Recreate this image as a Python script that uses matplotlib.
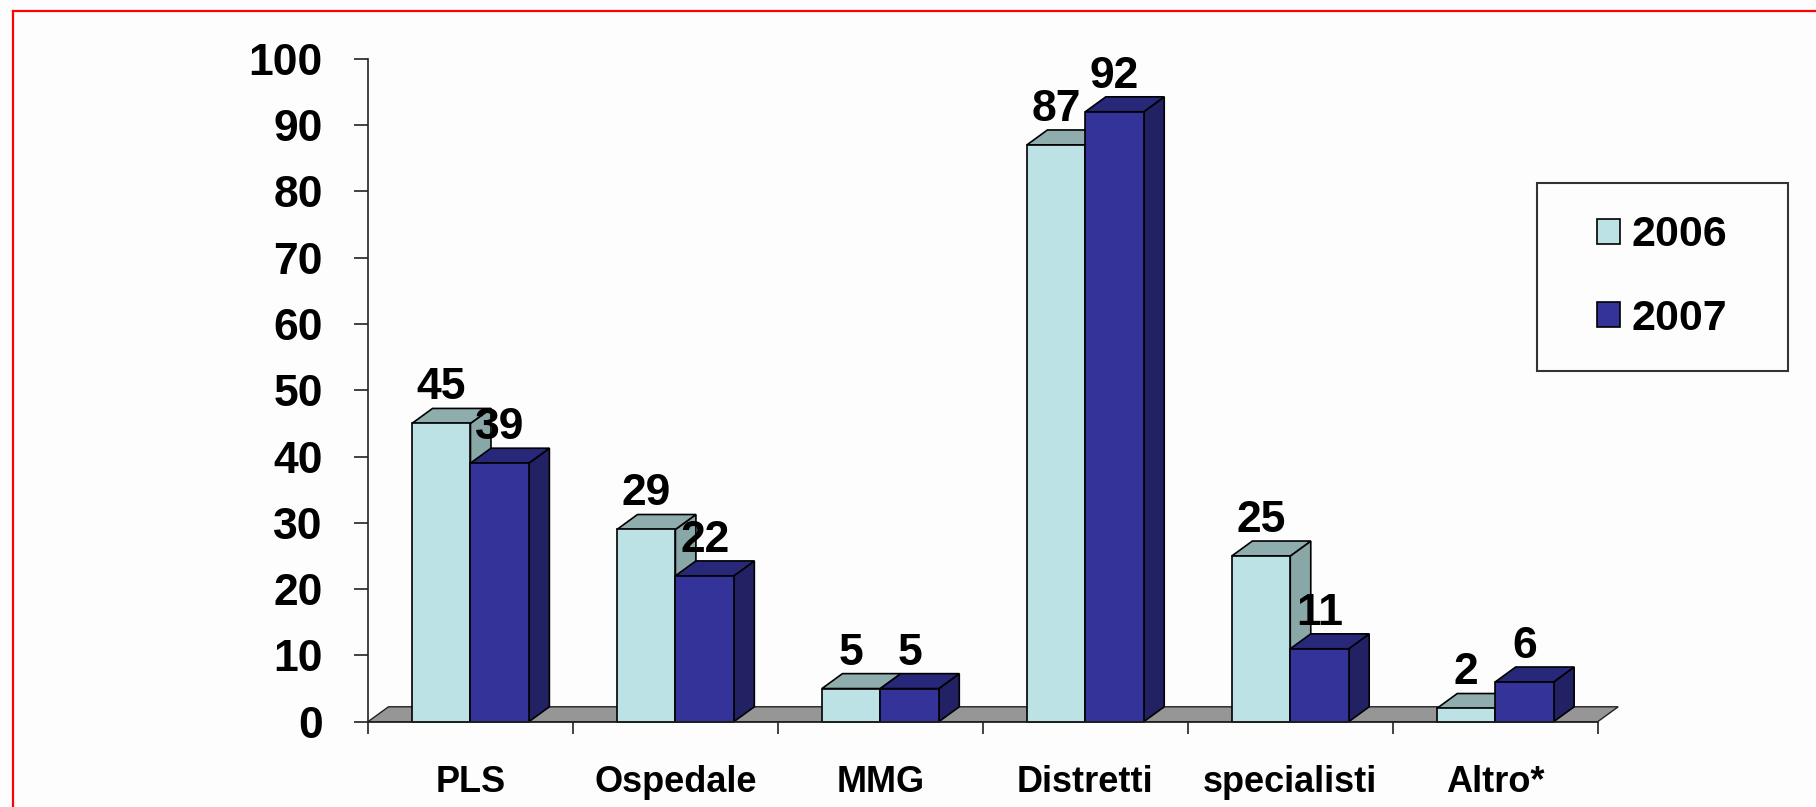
import matplotlib.pyplot as plt
from matplotlib.patches import Polygon, Rectangle, Patch
from matplotlib.lines import Line2D

# dati
categories = ['PLS', 'Ospedale', 'MMG', 'Distretti', 'specialisti', 'Altro*']
years = ['2006', '2007']
values_2006 = [45, 29, 5, 87, 25, 2]
values_2007 = [39, 22, 5, 92, 11, 6]

# colori: fronte, sopra, lato
colors_2006 = ('#bce2e5', '#8fadad', '#8aa7a7')
colors_2007 = ('#333399', '#28287a', '#212163')

plt.rcParams['font.family'] = ['Liberation Sans', 'DejaVu Sans']
plt.rcParams['font.weight'] = 'bold'

W, H = 1816, 807
fig = plt.figure(figsize=(W / 100, H / 100), dpi=100, facecolor='#fdfdfd')
ax = fig.add_axes([368 / W, 1 - 721.7 / H, (1597.7 - 368) / W, (721.7 - 58.7) / H])
ax.set_xlim(0, len(categories))
ax.set_ylim(0, 100)
ax.patch.set_visible(False)

# profondita' finta 3D (in unita' dati)
dx, dy = 0.1, 2.25
bar_w = 0.285
edge = dict(ec='black', lw=1.2, joinstyle='miter', clip_on=False)


def box3d(x0, v, cols):
    side = Polygon([(x0 + bar_w, 0), (x0 + bar_w + dx, dy), (x0 + bar_w + dx, v + dy), (x0 + bar_w, v)],
                   fc=cols[2], zorder=3, **edge)
    top = Polygon([(x0, v), (x0 + bar_w, v), (x0 + bar_w + dx, v + dy), (x0 + dx, v + dy)],
                  fc=cols[1], zorder=3, **edge)
    front = Rectangle((x0, 0), bar_w, v, fc=cols[0], zorder=3, **edge)
    for p in (side, top, front):
        ax.add_patch(p)


# pavimento grigio
n = len(categories)
floor = Polygon([(0, 0), (n, 0), (n + dx, dy), (dx, dy)], fc='#969696', ec='#222222', lw=1.0,
                zorder=2, clip_on=False)
ax.add_patch(floor)

for i in range(n):
    x06 = i + 0.5 - bar_w
    x07 = i + 0.5
    box3d(x06, values_2006[i], colors_2006)
    box3d(x07, values_2007[i], colors_2007)
    ax.annotate(str(values_2006[i]), (x06 + bar_w / 2, values_2006[i] + dy), xytext=(0, 6.5),
                textcoords='offset points', ha='center', va='baseline', fontsize=32,
                fontweight='bold', zorder=5, annotation_clip=False)
    ax.annotate(str(values_2007[i]), (x07 + bar_w / 2, values_2007[i] + dy), xytext=(0, 6.5),
                textcoords='offset points', ha='center', va='baseline', fontsize=32,
                fontweight='bold', zorder=5, annotation_clip=False)

# assi
for s in ('top', 'right'):
    ax.spines[s].set_visible(False)
for s in ('left', 'bottom'):
    ax.spines[s].set_color('#222222')
    ax.spines[s].set_linewidth(1.2)
    ax.spines[s].set_zorder(4)

ax.set_yticks(range(0, 101, 10))
ax.tick_params(axis='y', length=10, width=1.2, color='#222222', pad=22.5, labelsize=32)

ax.set_xticks(range(n + 1))
ax.set_xticklabels([])
ax.set_xticks([i + 0.5 for i in range(n)], minor=True)
ax.set_xticklabels(categories, minor=True, fontsize=26, fontweight='bold')
ax.tick_params(axis='x', which='major', length=8.6, width=1.2, color='#222222')
ax.tick_params(axis='x', which='minor', length=0, pad=31)

# legenda
handles = [Patch(fc=colors_2006[0], ec='black', lw=1.2),
           Patch(fc=colors_2007[0], ec='black', lw=1.2)]
fig.legend(handles, years, loc='center', bbox_to_anchor=(1662 / W, 1 - 277 / H), frameon=False,
           prop={'size': 31, 'weight': 'bold'}, handlelength=0.53, handleheight=0.53,
           handletextpad=0.27, labelspacing=1.0, borderpad=0)
fig.add_artist(Rectangle((1537 / W, 1 - 371 / H), 251 / W, 188 / H, transform=fig.transFigure,
                         fill=False, ec='#333333', lw=1.5))

# cornice rossa
fig.add_artist(Line2D([12.5 / W, 12.5 / W], [0, 1 - 11 / H], transform=fig.transFigure,
                      color='red', lw=1.6))
fig.add_artist(Line2D([12.5 / W, 1], [1 - 11 / H, 1 - 11 / H], transform=fig.transFigure,
                      color='red', lw=1.6))

plt.savefig('out.png', dpi=100, facecolor=fig.get_facecolor())
